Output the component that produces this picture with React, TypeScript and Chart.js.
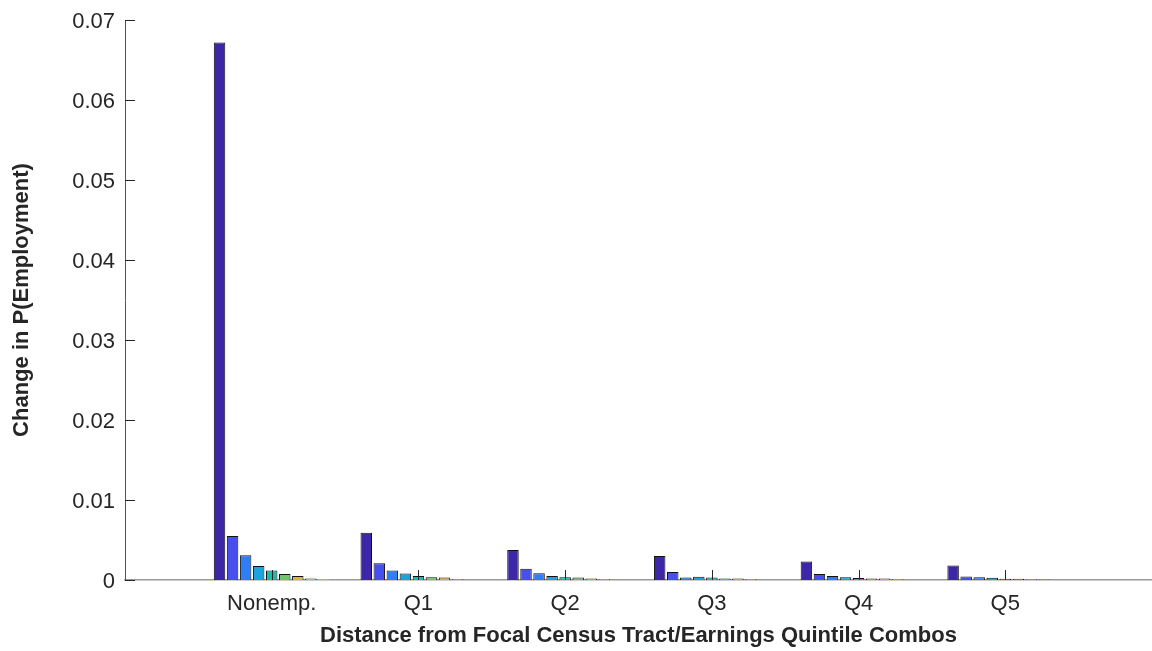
import React, { useEffect, useRef } from "react";
import { Chart, registerables } from "chart.js";

Chart.register(...registerables);

const categories = ["Nonemp.", "Q1", "Q2", "Q3", "Q4", "Q5"];
const series1 = [0.0672, 0.0059, 0.00375, 0.003, 0.0023, 0.0018];
const series2 = [0.0055, 0.0021, 0.0014, 0.001, 0.00075, 0.00045];
const series3 = [0.0031, 0.0012, 0.00083, 0.0003, 0.0005, 0.00035];
const series4 = [0.00175, 0.0008, 0.0005, 0.0004, 0.00033, 0.00028];
const series5 = [0.0012, 0.0005, 0.00033, 0.0003, 0.00025, 0.00015];
const series6 = [0.00075, 0.00033, 0.0003, 0.0002, 0.0002, 0.00015];
const series7 = [0.0005, 0.0003, 0.0002, 0.0002, 0.0002, 0.0001];
const series8 = [0.0002, 0.0001, 0.0001, 0.0001, 0.0001, 0.00005];
const series9 = [0.00005, 0, 0, 0, 0, 0];
const seriesList = [series1, series2, series3, series4, series5, series6, series7, series8, series9];
const seriesColors = ["#3e26a8", "#4750ee", "#2d7ef7", "#1ba3db", "#17bda9", "#6cc66c", "#d2bc2e", "#f5c43a", "#f9fb15"];

const yTicks = [0, 0.01, 0.02, 0.03, 0.04, 0.05, 0.06, 0.07];
const xTitle = "Distance from Focal Census Tract/Earnings Quintile Combos";
const yTitle = "Change in P(Employment)";

const FONT = "'Liberation Sans', Arial, Helvetica, sans-serif";
const TEXT = "#262626";

const inwardTicks = {
  id: "inwardTicks",
  afterDatasetsDraw(chart: any) {
    const { ctx, chartArea, scales } = chart;
    const xs = scales.x;
    const ys = scales.y;
    ctx.save();
    ctx.strokeStyle = TEXT;
    ctx.lineWidth = 1;
    ctx.beginPath();
    for (let i = 1; i <= categories.length; i++) {
      const px = Math.round(xs.getPixelForValue(i)) + 0.5;
      ctx.moveTo(px, chartArea.bottom);
      ctx.lineTo(px, chartArea.bottom - 10);
    }
    for (const v of yTicks) {
      const py = Math.round(ys.getPixelForValue(v)) + 0.5;
      ctx.moveTo(chartArea.left, py);
      ctx.lineTo(chartArea.left + 10, py);
    }
    ctx.stroke();
    ctx.restore();
  },
};

export default function App() {
  const ref = useRef<HTMLCanvasElement | null>(null);
  useEffect(() => {
    document.body.style.margin = "0";
    const labels = ["", ...categories, ""];
    const chart = new Chart(ref.current as HTMLCanvasElement, {
      type: "bar",
      data: {
        labels,
        datasets: seriesList.map((s, i) => ({
          label: "S" + (i + 1),
          data: [null, ...s, null],
          backgroundColor: seriesColors[i],
          borderColor: i === 8 ? "#f0f0c0" : "#111111",
          borderWidth: 1,
          borderSkipped: "start",
          categoryPercentage: 0.8,
          barPercentage: 0.88,
        })),
      },
      options: {
        animation: false,
        responsive: false,
        devicePixelRatio: 1,
        layout: { padding: { top: 20, right: 0, bottom: 0, left: 0 } },
        plugins: { legend: { display: false }, tooltip: { enabled: false } },
        scales: {
          x: {
            type: "category",
            offset: false,
            grid: { display: false, drawTicks: false },
            border: { display: true, color: "#9a9a9a", width: 1.5 },
            afterFit: (scale: any) => {
              scale.height = 71;
              scale.paddingLeft = 0;
              scale.paddingRight = 0;
            },
            ticks: {
              color: TEXT,
              font: { family: FONT, size: 22 },
              padding: 11,
              maxRotation: 0,
              autoSkip: false,
            },
            title: {
              display: true,
              text: xTitle,
              color: TEXT,
              font: { family: FONT, size: 22, weight: "bold" },
              padding: { top: 6, bottom: 2 },
            },
          },
          y: {
            min: 0,
            max: 0.07,
            grid: { display: false, drawTicks: false },
            border: { display: true, color: "#555555", width: 1 },
            afterBuildTicks: (scale: any) => {
              scale.ticks = yTicks.map((v) => ({ value: v }));
            },
            afterFit: (scale: any) => {
              scale.width = 125;
              scale.paddingTop = 0;
              scale.paddingBottom = 0;
            },
            ticks: {
              color: TEXT,
              font: { family: FONT, size: 22 },
              padding: 10,
              labelOffset: 2,
              callback: (v: any) => (Number(v) === 0 ? "0" : Number(v).toFixed(2)),
            },
            title: {
              display: true,
              text: yTitle,
              color: TEXT,
              font: { family: FONT, size: 22, weight: "bold" },
              padding: { top: 9, bottom: 27 },
            },
          },
        },
      },
      plugins: [inwardTicks],
    } as any);
    return () => chart.destroy();
  }, []);
  return (
    <div style={{ position: "absolute", left: 0, top: 0, width: 1152, height: 651 }}>
      <canvas ref={ref} width={1152} height={651} />
    </div>
  );
}
